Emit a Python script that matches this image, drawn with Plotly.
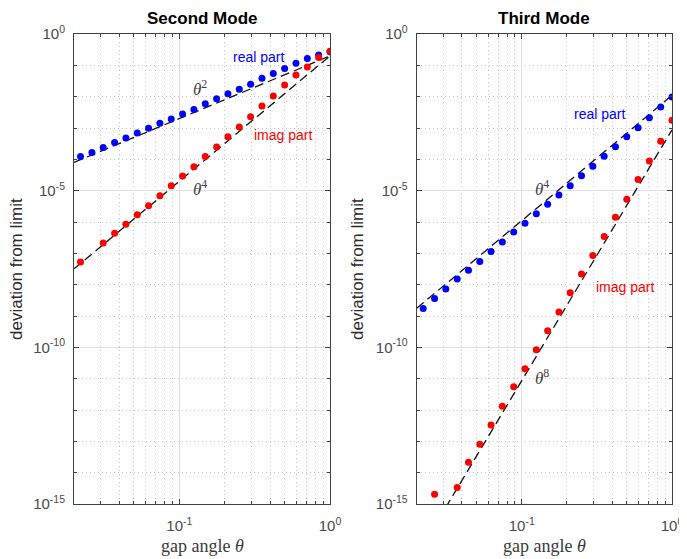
import plotly.graph_objects as go
from plotly.subplots import make_subplots

# ---------------- data ----------------
# gap angle samples, increasing (left to right)
theta = [0.0221, 0.0263, 0.03125, 0.0372, 0.0442, 0.0526, 0.0625, 0.0743,
         0.0884, 0.1051, 0.125, 0.1487, 0.1768, 0.2102, 0.25, 0.2973,
         0.3536, 0.4204, 0.5, 0.5946, 0.7071, 0.8409, 1.0]

# Second mode: log10 of deviation
m2_real_log = [-3.91, -3.78, -3.62, -3.46, -3.32, -3.16, -3.01, -2.85, -2.71,
               -2.55, -2.41, -2.23, -2.07, -1.91, -1.76, -1.60, -1.41, -1.26,
               -1.10, -0.93, -0.78, -0.67, -0.57]
m2_imag_theta = [0.0221, 0.03125, 0.0372, 0.0442, 0.0526, 0.0625, 0.0743,
                 0.0884, 0.1051, 0.125, 0.1487, 0.1768, 0.2102, 0.25, 0.2973,
                 0.3536, 0.4204, 0.5, 0.5946, 0.7071, 0.8409, 1.0]
m2_imag_log = [-7.28, -6.67, -6.36, -6.07, -5.77, -5.48, -5.16, -4.84, -4.53,
               -4.24, -3.91, -3.61, -3.28, -2.97, -2.64, -2.30, -1.98, -1.63,
               -1.31, -1.05, -0.75, -0.55]

# Third mode: log10 of deviation
m3_real_log = [-8.76, -8.44, -8.14, -7.82, -7.54, -7.26, -6.94, -6.64, -6.32,
               -6.04, -5.74, -5.43, -5.14, -4.84, -4.52, -4.22, -3.90, -3.60,
               -3.28, -2.99, -2.67, -2.33, -2.01]
m3_imag_theta = [0.0263, 0.0372, 0.0442, 0.0526, 0.0625, 0.0743, 0.0884,
                 0.1051, 0.125, 0.1487, 0.1768, 0.2102, 0.25, 0.2973, 0.3536,
                 0.4204, 0.5, 0.5946, 0.7071, 0.8409, 1.0]
m3_imag_log = [-14.69, -14.47, -13.67, -13.09, -12.48, -11.88, -11.26, -10.68,
               -10.08, -9.47, -8.87, -8.26, -7.66, -7.07, -6.46, -5.85, -5.27,
               -4.64, -4.05, -3.42, -2.75]

# reference power laws (end points of the dashed lines)
ref_theta = [0.02, 1.0]
ref_m2_theta2 = [8.0e-5, 0.2]
ref_m2_theta4 = [3.2e-8, 0.2]
ref_m3_theta4 = [1.76e-9, 0.011]
ref_m3_theta8 = [2.2e-17, 8.7e-4]

# axis ticks
x_major = [0.1, 1.0]
x_major_text = ["10<sup>-1</sup>", "10<sup>0</sup>"]
x_minor = [0.02, 0.03, 0.04, 0.05, 0.06, 0.07, 0.08, 0.09,
           0.2, 0.3, 0.4, 0.5, 0.6, 0.7, 0.8, 0.9]
y_major = [1e0, 1e-5, 1e-10, 1e-15]
y_major_text = ["10<sup>0</sup>", "10<sup>-5</sup>", "10<sup>-10</sup>", "10<sup>-15</sup>"]
y_minor = [1e-1, 1e-2, 1e-3, 1e-4, 1e-6, 1e-7, 1e-8, 1e-9,
           1e-11, 1e-12, 1e-13, 1e-14]

# ---------------- figure ----------------
# the page body has an 8px margin, so the figure is drawn 8px smaller and
# all layout positions (given in window pixels) are shifted by that offset
OFF = 8
W, H = 687 - OFF, 559 - OFF


def X(px):
    return (px - OFF) / W


def Y(py):
    return 1 - (py - OFF) / H


fig = make_subplots(rows=1, cols=2)

BLUE = "#0000ff"
RED = "#ff0000"
DASH = dict(color="#111111", width=1.3, dash="9px,5px")
MK = 7


def pw(vals):
    return [10 ** v for v in vals]


# second mode
fig.add_trace(go.Scatter(x=ref_theta, y=ref_m2_theta2, mode="lines", line=DASH,
                         showlegend=False), row=1, col=1)
fig.add_trace(go.Scatter(x=ref_theta, y=ref_m2_theta4, mode="lines", line=DASH,
                         showlegend=False), row=1, col=1)
fig.add_trace(go.Scatter(x=theta, y=pw(m2_real_log), mode="markers",
                         marker=dict(color=BLUE, size=MK), showlegend=False),
              row=1, col=1)
fig.add_trace(go.Scatter(x=m2_imag_theta, y=pw(m2_imag_log), mode="markers",
                         marker=dict(color=RED, size=MK), showlegend=False),
              row=1, col=1)

# third mode
fig.add_trace(go.Scatter(x=ref_theta, y=ref_m3_theta4, mode="lines", line=DASH,
                         showlegend=False), row=1, col=2)
fig.add_trace(go.Scatter(x=ref_theta, y=ref_m3_theta8, mode="lines", line=DASH,
                         showlegend=False), row=1, col=2)
fig.add_trace(go.Scatter(x=theta, y=pw(m3_real_log), mode="markers",
                         marker=dict(color=BLUE, size=MK), showlegend=False),
              row=1, col=2)
fig.add_trace(go.Scatter(x=m3_imag_theta, y=pw(m3_imag_log), mode="markers",
                         marker=dict(color=RED, size=MK), showlegend=False),
              row=1, col=2)

AXCOL = "#404040"
TICKFONT = dict(family="Liberation Sans, Arial, sans-serif", size=15, color="#4a4a4a")
MINOR = dict(ticks="inside", ticklen=3, tickcolor=AXCOL, showgrid=True,
             gridcolor="#c4c4c4", griddash="1px,3px", gridwidth=1)

xcommon = dict(type="log", range=[-1.69897, 0], tickmode="array",
               tickvals=x_major, ticktext=x_major_text, ticks="inside",
               ticklen=5, tickcolor=AXCOL, showline=True, linecolor=AXCOL,
               linewidth=1, mirror="ticks", showgrid=True, gridcolor="#e0e0e0",
               gridwidth=1, zeroline=False, tickfont=TICKFONT,
               ticklabelstandoff=8, automargin=False,
               minor=dict(tickmode="array", tickvals=x_minor, **MINOR))
ycommon = dict(type="log", range=[-15, 0], tickmode="array",
               tickvals=y_major, ticktext=y_major_text, ticks="inside",
               ticklen=5, tickcolor=AXCOL, showline=True, linecolor=AXCOL,
               linewidth=1, mirror="ticks", showgrid=True, gridcolor="#e0e0e0",
               gridwidth=1, zeroline=False, tickfont=TICKFONT,
               ticklabelstandoff=5, automargin=False,
               minor=dict(tickmode="array", tickvals=y_minor, **MINOR))

ydom = [Y(504), Y(34)]
fig.update_xaxes(**xcommon)
fig.update_yaxes(**ycommon)
fig.update_layout(
    xaxis=dict(domain=[X(74), X(330)]),
    xaxis2=dict(domain=[X(416.7), X(672)]),
    yaxis=dict(domain=ydom),
    yaxis2=dict(domain=ydom),
)

SANS = "Liberation Sans, Arial, sans-serif"
SERIF = "Liberation Serif, Times New Roman, serif"


def ann(x, y, text, size, color, family=SANS, angle=0):
    fig.add_annotation(x=X(x), y=Y(y), xref="paper", yref="paper",
                       text=text, showarrow=False, textangle=angle,
                       font=dict(family=family, size=size, color=color),
                       xanchor="center", yanchor="middle")


# titles
ann(202, 19, "<b>Second Mode</b>", 17, "#000000")
ann(544, 19, "<b>Third Mode</b>", 17, "#000000")
# axis titles
ann(17, 269, "deviation from limit", 17, "#2a2a2a", angle=-90)
ann(358, 269, "deviation from limit", 17, "#2a2a2a", angle=-90)
ann(202, 546, "gap angle <i>θ</i>", 18, "#3a3a3a", family=SERIF)
ann(544, 546, "gap angle <i>θ</i>", 18, "#3a3a3a", family=SERIF)
# in-plot labels
ann(258, 57, "real part", 14, BLUE)
ann(283, 135, "imag part", 14, RED)
ann(200, 88, "<i>θ</i><sup>2</sup>", 17, "#404040", family=SERIF)
ann(200, 188, "<i>θ</i><sup>4</sup>", 17, "#404040", family=SERIF)
ann(599, 114, "real part", 14, BLUE)
ann(625, 287, "imag part", 14, RED)
ann(542, 188, "<i>θ</i><sup>4</sup>", 17, "#404040", family=SERIF)
ann(542, 377, "<i>θ</i><sup>8</sup>", 17, "#404040", family=SERIF)

fig.update_layout(width=W, height=H,
                  margin=dict(l=0, r=0, t=0, b=0, autoexpand=False),
                  paper_bgcolor="white", plot_bgcolor="white",
                  showlegend=False)

fig.write_html("out.html")
